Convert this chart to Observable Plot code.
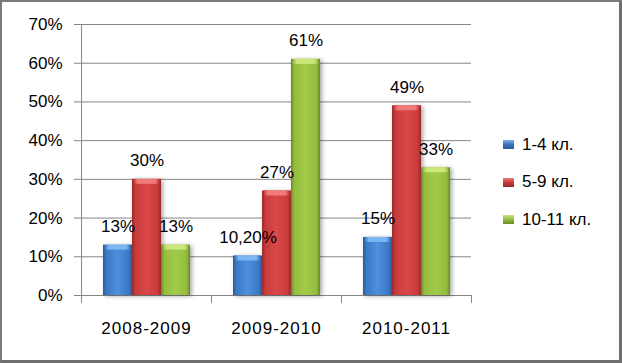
<!DOCTYPE html>
<html><head><meta charset="utf-8">
<script src="https://cdn.jsdelivr.net/npm/d3@7"></script>
<script src="https://cdn.jsdelivr.net/npm/@observablehq/plot@0.6"></script>
<style>
body{margin:0;background:#fff;}
#wrap{position:relative;width:622px;height:363px;overflow:hidden;font-family:"Liberation Sans",Arial,sans-serif;background:#fff;}
#border{position:absolute;left:0;top:0;width:622px;height:363px;box-sizing:border-box;border-left:2px solid #7a7a7a;border-top:2px solid #7a7a7a;border-right:3px solid #6e6e6e;border-bottom:3px solid #6e6e6e;pointer-events:none;}
#legend{position:absolute;left:503px;top:126px;}
.item{display:flex;align-items:center;height:37.5px;font-size:17px;color:#000;white-space:nowrap;}
.sw{width:11px;height:9px;margin-right:8px;}
g[aria-label="fx-axis tick label"] text{letter-spacing:1px;}
</style></head><body><div id="wrap"><div id="legend"></div><div id="border"></div></div>
<script>
const years = ["2008-2009", "2009-2010", "2010-2011"];
const series = ["1-4 кл.", "5-9 кл.", "10-11 кл."];
const values14 = [13, 10.2, 15];
const values59 = [30, 27, 49];
const values1011 = [13, 61, 33];
const labels14 = ["13%", "10,20%", "15%"];
const labels59 = ["30%", "27%", "49%"];
const labels1011 = ["13%", "61%", "33%"];
const yTicks = [0, 10, 20, 30, 40, 50, 60, 70];

const seriesValues = [values14, values59, values1011];
const seriesLabels = [labels14, labels59, labels1011];
const data = [];
years.forEach((yr, i) => {
  series.forEach((s, k) => data.push({year: yr, series: s, value: seriesValues[k][i], label: seriesLabels[k][i]}));
});

const palette = [
  {edge: "#2b5a96", main: "#3b79c6", light: "#4f8fdc", top: "#7ab6f2"},
  {edge: "#962a2a", main: "#c93b3b", light: "#d94848", top: "#f07a7a"},
  {edge: "#6a8a26", main: "#94bd3e", light: "#a3cb4a", top: "#cbe77a"}
];
const legendColors = ["#3b73b9", "#c73b3b", "#93bb3e"];
const idx = d => series.indexOf(d.series);
const plotH = 363 - 24 - 68;

const plot = Plot.plot({
  width: 622, height: 363,
  marginLeft: 81, marginRight: 151, marginTop: 24, marginBottom: 68,
  style: {fontFamily: "'Liberation Sans', Arial, sans-serif", fontSize: "17px", color: "#000", background: "transparent"},
  fx: {domain: years, padding: 0, label: null, axis: "bottom", tickSize: 0, tickPadding: 26},
  x: {domain: series, paddingInner: 0, paddingOuter: 0.74, axis: null},
  y: {domain: [0, 70], axis: null},
  marks: [
    Plot.gridY(yTicks, {stroke: "#868686", strokeOpacity: 1}),
    Plot.axisY(yTicks, {tickFormat: d => d + "%", tickSize: 7, tickPadding: 12, stroke: "#868686", fill: "#000", fontSize: 17, label: null}),
    Plot.frame({anchor: "left", facetAnchor: "left", stroke: "#868686", strokeOpacity: 1, insetBottom: -7}),
    Plot.frame({anchor: "left", stroke: "#868686", strokeOpacity: 1, insetTop: plotH, insetBottom: -7}),
    Plot.frame({anchor: "right", stroke: "#868686", strokeOpacity: 1, insetTop: plotH, insetBottom: -7}),
    Plot.barY(data, {fx: "year", x: "series", y: "value", fill: d => `url(#g${idx(d)})`, imageFilter: "drop-shadow(2px 1px 2px rgba(0,0,0,0.35))"}),
    Plot.barY(data, {fx: "year", x: "series", y1: "value", y2: "value", insetBottom: -5, insetLeft: 2, insetRight: 2, fill: d => `url(#t${idx(d)})`}),
    Plot.text(data, {fx: "year", x: "series", y: "value", text: "label", dy: -13, lineAnchor: "bottom", fontSize: 17, fill: "#000"})
  ]
});

const svg = d3.select(plot);
const defs = svg.insert("defs", ":first-child");
palette.forEach((p, i) => {
  const g = defs.append("linearGradient").attr("id", `g${i}`).attr("x1", 0).attr("x2", 1).attr("y1", 0).attr("y2", 0);
  [[0, p.edge], [0.12, p.main], [0.5, p.light], [0.88, p.main], [1, p.edge]].forEach(([o, c]) => g.append("stop").attr("offset", o).attr("stop-color", c));
  const t = defs.append("linearGradient").attr("id", `t${i}`).attr("x1", 0).attr("x2", 1).attr("y1", 0).attr("y2", 0);
  [[0, p.main], [0.15, p.top], [0.85, p.top], [1, p.main]].forEach(([o, c]) => t.append("stop").attr("offset", o).attr("stop-color", c));
});

const wrap = document.getElementById("wrap");
wrap.insertBefore(plot, wrap.firstChild);

const legend = d3.select("#legend");
series.forEach((s, i) => {
  const it = legend.append("div").attr("class", "item");
  it.append("div").attr("class", "sw").style("background", `linear-gradient(${palette[i].top}, ${legendColors[i]} 50%, ${palette[i].edge})`);
  it.append("span").text(s);
});
</script>
</body></html>
